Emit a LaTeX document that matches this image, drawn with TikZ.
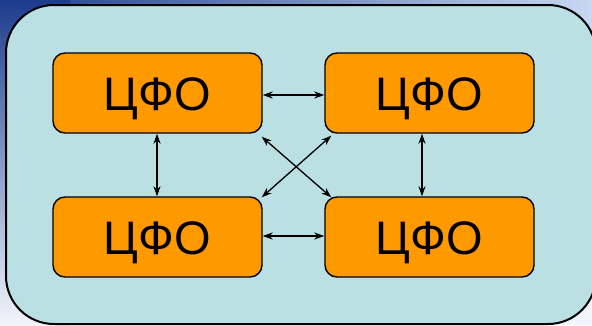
\documentclass[tikz,border=0pt]{standalone}
\usepackage{fontspec}
\setmainfont{Liberation Sans}
\usetikzlibrary{arrows.meta}
\definecolor{panel}{HTML}{BBE0E3}
\definecolor{boxfill}{HTML}{FF9900}
\definecolor{deepblue}{HTML}{1C3C8C}
\definecolor{skyblue}{HTML}{C8D8F2}
\definecolor{paleblue}{HTML}{F2F5FB}
\tikzset{
  fobox/.style={draw=black, line width=1.4pt, fill=boxfill, rounded corners=12pt,
    minimum width=209pt, minimum height=80pt, inner sep=0pt},
  folabel/.style={font=\fontsize{47}{47}\selectfont, anchor=base, inner sep=0pt},
  link/.style={line width=1.3pt, {Stealth[length=10pt,width=7pt]}-{Stealth[length=10pt,width=7pt]}}
}
\begin{document}
\begin{tikzpicture}[x=1pt,y=-1pt]
  \useasboundingbox (0,0) rectangle (592,325);
  % backdrop: dark at the top left, light to the right and downwards
  \fill[paleblue] (0,0) rectangle (592,325);
  \shade[left color=deepblue, right color=skyblue] (0,0) rectangle (592,70);
  \shade[top color=deepblue, bottom color=paleblue] (0,0) rectangle (70,325);
  \fill[paleblue] (522,260) rectangle (592,325);
  % panel
  \draw[line width=2pt, fill=panel, rounded corners=48pt] (6,5) rectangle (596,324);
  % boxes
  \node[fobox] (tl) at (157.5,93) {};
  \node[fobox] (tr) at (429.5,93) {};
  \node[fobox] (bl) at (157.5,237) {};
  \node[fobox] (br) at (429.5,237) {};
  \node[folabel] (tlt) at (157.5,110) {ЦФО};
  \node[folabel] (trt) at (429.5,110) {ЦФО};
  \node[folabel] (blt) at (157.5,254) {ЦФО};
  \node[folabel] (brt) at (429.5,254) {ЦФО};
  % connectors
  \draw[link] (tl.east |- 0,95) -- (tr.west |- 0,95);
  \draw[link] (bl.east |- 0,236) -- (br.west |- 0,236);
  \draw[link] (tl.south -| 157,0) -- (bl.north -| 157,0);
  \draw[link] (tr.south -| 422,0) -- (br.north -| 422,0);
  \draw[link] ([xshift=-1pt,yshift=-3pt]tl.south east) -- ([xshift=7pt,yshift=-1pt]br.north west);
  \draw[link] ([xshift=7pt,yshift=-2pt]tr.south west) -- ([xshift=-1pt,yshift=-1pt]bl.north east);
\end{tikzpicture}
\end{document}
